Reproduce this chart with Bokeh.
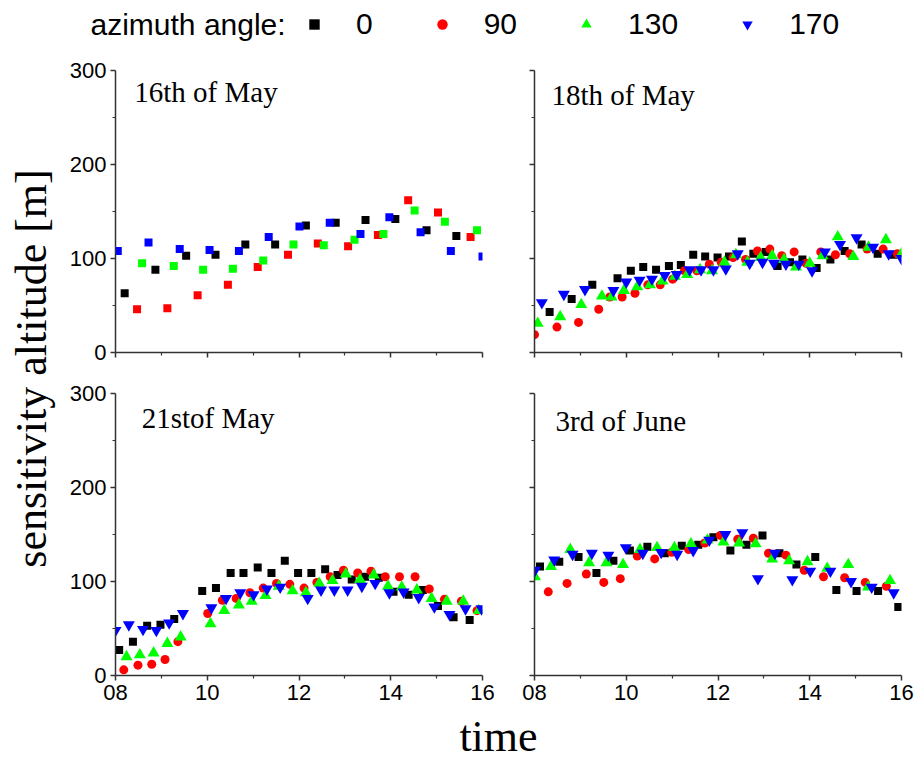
import math
from bokeh.plotting import figure
from bokeh.models import Range1d, FixedTicker, Label, Legend, LegendItem, LinearAxis
from bokeh.layouts import row, column
from bokeh.embed import file_html
from bokeh.resources import INLINE

# ---------------- data ----------------
angles = ["0", "90", "130", "170"]
colors = ["#000000", "#ff0000", "#00ff00", "#0000ff"]
markers = ["square", "circle", "triangle", "inverted_triangle"]

x_ticks = [8, 10, 12, 14, 16]
x_tick_labels = ["08", "10", "12", "14", "16"]
x_minor = [9, 11, 13, 15]
y_ticks = [0, 100, 200, 300]
y_tick_labels = ["0", "100", "200", "300"]
y_minor = [50, 150, 250]

titles = ["16th of May", "18th of  May", "21stof May", "3rd of June"]

# 16th of May
may16_t0 = [8.20, 8.87, 9.54, 10.18, 10.83, 11.48, 12.15, 12.80, 13.45, 14.10, 14.78, 15.43]
may16_v0 = [63, 88, 103, 104, 115, 115, 135, 138, 141, 142, 130, 124]
may16_t90 = [8.47, 9.13, 9.79, 10.45, 11.10, 11.76, 12.41, 13.07, 13.72, 14.38, 15.03, 15.74]
may16_v90 = [46, 47, 61, 72, 91, 104, 116, 113, 125, 162, 149, 123]
may16_t130 = [8.58, 9.27, 9.91, 10.56, 11.22, 11.88, 12.54, 13.21, 13.84, 14.52, 15.18, 15.88]
may16_v130 = [95, 92, 88, 89, 98, 115, 114, 120, 126, 151, 139, 130]
may16_t170 = [8.05, 8.72, 9.40, 10.05, 10.69, 11.34, 12.01, 12.67, 13.34, 13.97, 14.65, 15.31, 16.0]
may16_v170 = [108, 117, 110, 109, 108, 123, 134, 138, 126, 144, 128, 108, 102]

# 18th of May
may18_t0 = [8.33, 8.81, 9.26, 9.81, 10.10, 10.37, 10.65, 10.93, 11.19, 11.46, 11.72, 11.99, 12.24,
            12.52, 12.77, 13.04, 13.30, 13.57, 13.84, 14.15, 14.45, 14.76, 15.13, 15.48, 15.82]
may18_v0 = [43, 57, 72, 79, 87, 91, 88, 92, 93, 104, 102, 101, 102,
            118, 105, 107, 92, 96, 99, 90, 99, 108, 115, 105, 104]
may18_t90 = [8.00, 8.49, 8.96, 9.40, 9.64, 9.91, 10.19, 10.47, 10.74, 11.01, 11.27, 11.54, 11.81, 12.07,
             12.33, 12.60, 12.86, 13.13, 13.39, 13.66, 13.92, 14.24, 14.56, 14.87, 15.25, 15.60, 15.91]
may18_v90 = [19, 27, 32, 46, 59, 59, 63, 72, 72, 78, 87, 87, 94, 96,
             101, 99, 108, 110, 103, 107, 95, 107, 104, 105, 110, 110, 105]
may18_t130 = [8.07, 8.56, 9.02, 9.47, 9.68, 9.95, 10.24, 10.52, 10.79, 11.06, 11.33, 11.61, 11.87, 12.14,
              12.39, 12.64, 12.93, 13.18, 13.44, 13.70, 14.00, 14.28, 14.61, 14.95, 15.28, 15.66, 16.0]
may18_v130 = [31, 38, 51, 60, 59, 66, 70, 72, 76, 81, 83, 88, 87, 96,
              104, 96, 101, 103, 99, 91, 95, 103, 123, 102, 112, 120, 105]
may18_t170 = [8.16, 8.64, 9.10, 9.72, 10.00, 10.29, 10.56, 10.84, 11.10, 11.38, 11.63, 11.90, 12.17,
              12.43, 12.69, 12.97, 13.22, 13.48, 13.76, 14.05, 14.33, 14.66, 15.02, 15.38, 15.72, 16.0]
may18_v170 = [53, 62, 67, 66, 75, 77, 78, 82, 83, 88, 88, 88, 89,
              105, 95, 96, 95, 94, 94, 87, 107, 115, 122, 112, 105, 100]

# 21st of May
may21_t0 = [8.08, 8.38, 8.69, 8.98, 9.28, 9.89, 10.19, 10.51, 10.79, 11.10, 11.40, 11.69, 11.98,
            12.27, 12.57, 12.84, 13.15, 13.44, 13.74, 14.06, 14.39, 14.70, 15.03, 15.37, 15.72]
may21_v0 = [27, 36, 53, 54, 60, 90, 93, 109, 109, 115, 109, 122, 109,
            109, 113, 107, 102, 105, 104, 89, 86, 91, 74, 62, 59]
may21_t90 = [8.18, 8.49, 8.79, 9.08, 9.36, 10.01, 10.33, 10.63, 10.93, 11.22, 11.51, 11.80, 12.11,
             12.39, 12.68, 12.97, 13.28, 13.57, 13.88, 14.19, 14.53, 14.84, 15.17, 15.54, 15.88]
may21_v90 = [6, 11, 12, 17, 36, 66, 80, 82, 88, 93, 98, 97, 93,
             99, 105, 112, 109, 111, 105, 105, 105, 92, 81, 79, 69]
may21_t130 = [8.24, 8.53, 8.83, 9.13, 9.42, 10.07, 10.37, 10.69, 10.97, 11.27, 11.56, 11.86, 12.15,
              12.44, 12.73, 13.02, 13.33, 13.63, 13.94, 14.24, 14.57, 14.89, 15.22, 15.58, 15.92]
may21_v130 = [20, 22, 24, 34, 41, 55, 69, 75, 79, 85, 95, 90, 88,
              98, 101, 108, 102, 107, 95, 94, 91, 82, 79, 79, 69]
may21_t170 = [8.00, 8.29, 8.60, 8.89, 9.17, 9.47, 10.09, 10.41, 10.72, 11.01, 11.30, 11.59, 12.19,
              12.48, 12.77, 13.06, 13.37, 13.66, 13.97, 14.28, 14.61, 14.95, 15.28, 15.63, 15.98]
may21_v170 = [48, 54, 49, 48, 56, 66, 72, 82, 88, 86, 92, 94, 82,
              91, 91, 91, 95, 98, 88, 89, 83, 73, 65, 71, 71]

# 3rd of June
jun3_t0 = [8.12, 8.54, 8.96, 9.35, 9.72, 10.08, 10.46, 10.84, 11.21, 11.57, 11.90, 12.27, 12.62,
           12.97, 13.34, 13.71, 14.12, 14.58, 15.02, 15.49, 15.93]
jun3_v0 = [116, 121, 126, 109, 122, 133, 137, 130, 138, 139, 147, 133, 139,
           149, 130, 118, 126, 91, 90, 90, 73]
jun3_t90 = [8.30, 8.71, 9.13, 9.51, 9.87, 10.24, 10.62, 10.99, 11.36, 11.71, 12.05, 12.43, 12.77,
            13.10, 13.48, 13.88, 14.30, 14.76, 15.21, 15.67]
jun3_v90 = [89, 98, 108, 99, 103, 127, 124, 131, 134, 141, 149, 145, 146,
            130, 128, 112, 105, 104, 99, 95]
jun3_t130 = [8.01, 8.36, 8.78, 9.19, 9.57, 9.93, 10.30, 10.67, 11.05, 11.41, 11.77, 12.12, 12.46,
             12.82, 13.18, 13.55, 13.95, 14.38, 14.84, 15.27, 15.75]
jun3_v130 = [105, 116, 134, 120, 120, 118, 134, 136, 136, 140, 144, 142, 141,
             140, 124, 122, 121, 114, 118, 94, 101]
jun3_t170 = [8.01, 8.43, 8.83, 9.25, 9.61, 9.99, 10.36, 10.76, 11.11, 11.46, 11.81, 12.16, 12.53,
             12.87, 13.24, 13.62, 14.01, 14.45, 14.90, 15.35, 15.83]
jun3_v170 = [112, 123, 129, 130, 128, 136, 130, 131, 129, 133, 144, 150, 152,
             103, 130, 102, 111, 111, 100, 94, 88]

# ---------------- styling ----------------
AX = "#333333"
SANS = "Liberation Sans"
SERIF = "Liberation Serif"
marker_sizes = {"square": 8, "circle": 9, "triangle": 12, "inverted_triangle": 12}


def make_panel(width, height, bl, br, bt, bb, series, marks, title, tx, ty, show_x, show_y):
    p = figure(width=width, height=height, x_range=Range1d(8, 16), y_range=Range1d(0, 300),
               output_backend="svg", toolbar_location=None,
               x_axis_type=None, y_axis_type=None,
               min_border_left=bl, min_border_right=br, min_border_top=bt, min_border_bottom=bb)
    p.outline_line_color = None
    p.background_fill_color = "white"
    p.border_fill_color = "white"

    xa = LinearAxis(ticker=FixedTicker(ticks=x_ticks, minor_ticks=x_minor))
    xa.major_label_overrides = {t: (l if show_x else "") for t, l in zip(x_ticks, x_tick_labels)}
    ya = LinearAxis(ticker=FixedTicker(ticks=y_ticks, minor_ticks=y_minor))
    ya.major_label_overrides = {t: (l if show_y else "") for t, l in zip(y_ticks, y_tick_labels)}
    for ax in (xa, ya):
        ax.axis_line_color = AX
        ax.axis_line_width = 1.5
        ax.major_tick_line_color = AX
        ax.major_tick_line_width = 1.5
        ax.minor_tick_line_color = AX
        ax.minor_tick_line_width = 1.2
        ax.major_tick_in = 0
        ax.major_tick_out = 5
        ax.minor_tick_in = 0
        ax.minor_tick_out = 3
        ax.major_label_text_font = SANS
        ax.major_label_text_font_size = "22px"
        ax.major_label_text_color = "black"
        ax.major_label_standoff = 4
    p.add_layout(xa, "below")
    p.add_layout(ya, "left")

    for (t, v), c, m in zip(series, colors, marks):
        p.scatter(t, v, marker=m, size=marker_sizes[m], fill_color=c, line_color=None)

    p.add_layout(Label(x=tx, y=ty, text=title, text_font=SERIF, text_font_size="29px",
                       text_color="black", text_baseline="alphabetic"))
    return p


tl = make_panel(448, 322, 55, 26, 20, 20,
                [(may16_t0, may16_v0), (may16_t90, may16_v90), (may16_t130, may16_v130), (may16_t170, may16_v170)],
                ["square"] * 4, titles[0], 8.41, 277, False, True)
tr = make_panel(408, 322, 26, 15, 20, 20,
                [(may18_t0, may18_v0), (may18_t90, may18_v90), (may18_t130, may18_v130), (may18_t170, may18_v170)],
                markers, titles[1], 8.37, 274, False, False)
bl = make_panel(448, 337, 55, 26, 21, 34,
                [(may21_t0, may21_v0), (may21_t90, may21_v90), (may21_t130, may21_v130), (may21_t170, may21_v170)],
                markers, titles[2], 8.57, 274, True, True)
br = make_panel(408, 337, 26, 15, 21, 34,
                [(jun3_t0, jun3_v0), (jun3_t90, jun3_v90), (jun3_t130, jun3_v130), (jun3_t170, jun3_v170)],
                markers, titles[3], 8.46, 271, True, False)


def blank(width, height):
    f = figure(width=width, height=height, x_range=Range1d(0, width), y_range=Range1d(0, height),
               output_backend="svg", toolbar_location=None, x_axis_type=None, y_axis_type=None,
               min_border=0, min_border_left=0, min_border_right=0, min_border_top=0, min_border_bottom=0)
    f.outline_line_color = None
    f.border_fill_color = "white"
    return f


# legend strip
leg = blank(916, 50)
leg.add_layout(Label(x=90, y=26, x_units="screen", y_units="screen", text="azimuth angle:",
                     text_font=SANS, text_font_size="30px", text_baseline="middle", text_color="black"))
items = []
for a, c, m in zip(angles, colors, markers):
    r = leg.scatter(x=[float("nan")], y=[float("nan")], marker=m, fill_color=c, line_color=None)
    items.append(LegendItem(label=a, renderers=[r]))
legend = Legend(items=items, orientation="horizontal", location=(301, 9),
                glyph_width=26, glyph_height=26, label_standoff=29, spacing=56, label_width=10,
                padding=0, margin=0, border_line_color=None, background_fill_alpha=0,
                label_text_font=SANS, label_text_font_size="30px", label_text_color="black")
leg.add_layout(legend)

# y label strip
ylab = blank(60, 659)
ylab.add_layout(Label(x=31, y=341, x_units="screen", y_units="screen", text="sensitivity altitude [m]",
                      angle=math.pi / 2, text_align="center", text_baseline="alphabetic",
                      text_font=SERIF, text_font_size="44px", text_color="black"))

# x label strip
tlab = blank(916, 52)
tlab.add_layout(Label(x=498, y=25, x_units="screen", y_units="screen", text="time",
                      text_align="center", text_baseline="alphabetic",
                      text_font=SERIF, text_font_size="44px", text_color="black"))

layout = column(leg, row(ylab, column(row(tl, tr), row(bl, br))), tlab)

open("out.html", "w").write(file_html(layout, INLINE))
